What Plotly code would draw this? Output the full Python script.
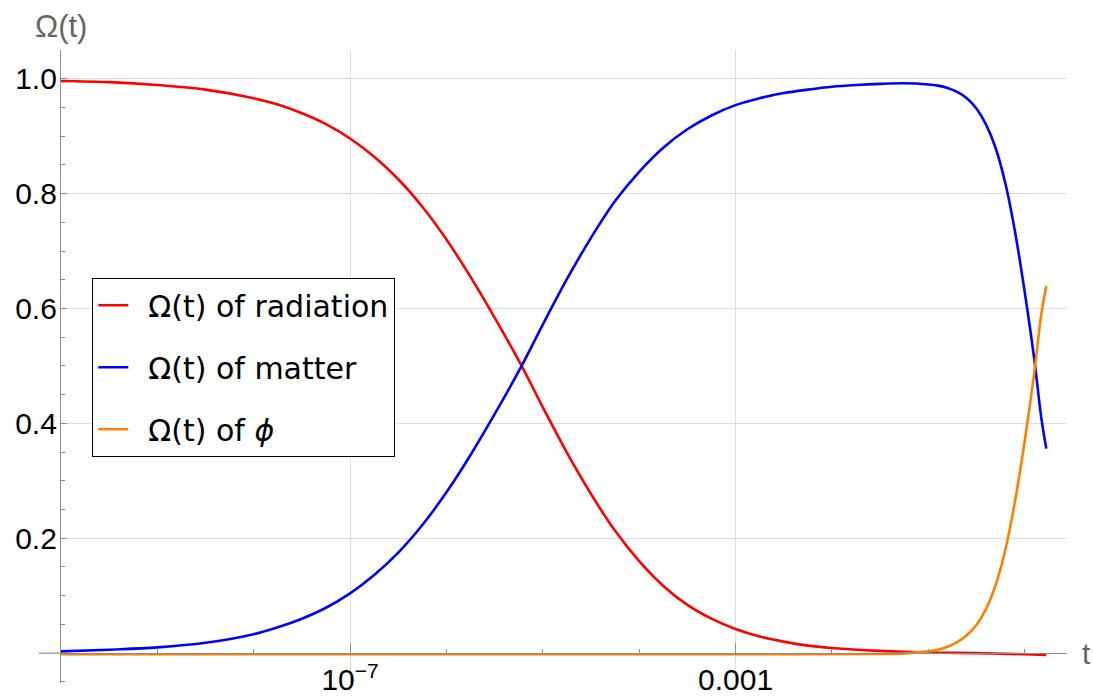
import plotly.graph_objects as go

# log10(t) sample positions and density parameters for each component
lt_radiation = [-10.0, -9.5, -9.0, -8.5, -8.0, -7.75, -7.5, -7.25, -7.0, -6.75, -6.5,
                -6.25, -6.0, -5.75, -5.5, -5.22, -5.0, -4.75, -4.5, -4.25, -4.0,
                -3.75, -3.5, -3.25, -3.0, -2.75, -2.5, -2.25, -2.0, -1.5, -1.0,
                -0.5, 0.0, 0.225]
omega_radiation = [0.996, 0.994, 0.989, 0.981, 0.966, 0.955, 0.940, 0.921, 0.896, 0.864, 0.825,
                   0.777, 0.720, 0.655, 0.584, 0.500, 0.428, 0.349, 0.277, 0.213, 0.160,
                   0.117, 0.084, 0.060, 0.042, 0.029, 0.020, 0.013, 0.009, 0.004, 0.001,
                   0.000, -0.002, -0.003]

lt_matter = [-10.0, -9.5, -9.0, -8.5, -8.0, -7.75, -7.5, -7.25, -7.0, -6.75, -6.5,
             -6.25, -6.0, -5.75, -5.5, -5.22, -5.0, -4.75, -4.5, -4.25, -4.0,
             -3.75, -3.5, -3.25, -3.0, -2.75, -2.5, -2.25, -2.0, -1.75, -1.5,
             -1.25, -1.0, -0.9, -0.8, -0.7, -0.6, -0.5, -0.4, -0.3, -0.2, -0.1,
             0.0, 0.1, 0.173, 0.225]
omega_matter = [0.003, 0.006, 0.010, 0.018, 0.033, 0.045, 0.060, 0.079, 0.104, 0.136, 0.175,
                0.223, 0.280, 0.345, 0.416, 0.500, 0.572, 0.651, 0.723, 0.787, 0.838,
                0.880, 0.912, 0.936, 0.954, 0.966, 0.975, 0.981, 0.986, 0.989, 0.991,
                0.992, 0.990, 0.988, 0.984, 0.977, 0.966, 0.948, 0.920, 0.879, 0.818, 0.734,
                0.630, 0.512, 0.410, 0.356]

lt_phi = [-10.0, -6.0, -2.0, -1.5, -1.25, -1.0, -0.9, -0.8, -0.7, -0.6, -0.5,
          -0.4, -0.3, -0.2, -0.1, 0.0, 0.1, 0.173, 0.225]
omega_phi = [-0.002, -0.002, -0.002, -0.0015, -0.0005, 0.003, 0.006, 0.011, 0.019, 0.031, 0.049,
             0.077, 0.119, 0.180, 0.264, 0.368, 0.488, 0.590, 0.639]

y_tickvals = [0.2, 0.4, 0.6, 0.8, 1.0]
y_ticktext = ["0.2", "0.4", "0.6", "0.8", "1.0"]
x_tickvals = [1e-7, 1e-3]
x_ticktext = ["10<sup>\u22127</sup>", "0.001"]
x_minor_ticks = [10.0 ** k for k in range(-10, 1)]

# legend names carry an en space so the text sits clear of the line sample
series = [
    ("\u2002\u03a9(t) of radiation", lt_radiation, omega_radiation, "#ff0000"),
    ("\u2002\u03a9(t) of matter", lt_matter, omega_matter, "#0000ff"),
    ("\u2002\u03a9(t) of <i>\u03d5</i>", lt_phi, omega_phi, "#ff8000"),
]

AXIS_GRAY = "#8c8c8c"
GRID_GRAY = "#dedede"
Y_RANGE = [-0.052, 1.05]

fig = go.Figure()
for i, (name, lt, om, col) in enumerate(series):
    fig.add_trace(go.Scatter(
        x=[10.0 ** v for v in lt], y=om, mode="lines", name=name,
        legendgroup=f"g{i}",
        line=dict(color=col, width=2.6, shape="spline", smoothing=1.0),
    ))

fig.update_layout(
    width=1093, height=699,
    margin=dict(l=61, r=26, t=50, b=16, autoexpand=False),
    paper_bgcolor="white", plot_bgcolor="white",
    font=dict(family="Liberation Sans, Arial, sans-serif", size=30, color="black"),
    showlegend=True,
    legend=dict(
        x=(92 - 61) / 1006, y=(683 - 278) / 633, xanchor="left", yanchor="top",
        bgcolor="white", bordercolor="black", borderwidth=1.3,
        font=dict(family="DejaVu Sans", size=30, color="black"),
        tracegroupgap=20, itemwidth=30,
    ),
    xaxis=dict(
        type="log", range=[-10, 0.44], automargin=False,
        anchor="free", position=(0 - Y_RANGE[0]) / (Y_RANGE[1] - Y_RANGE[0]),
        showline=True, linecolor=AXIS_GRAY, linewidth=1.2,
        tickmode="array", tickvals=x_tickvals, ticktext=x_ticktext,
        ticks="inside", ticklen=10, tickcolor=AXIS_GRAY, tickwidth=1.2,
        showgrid=True, gridcolor=GRID_GRAY, gridwidth=1,
        minor=dict(tickmode="array", tickvals=x_minor_ticks, ticks="inside",
                   ticklen=4, tickcolor=AXIS_GRAY, showgrid=False),
        zeroline=False,
        tickfont=dict(size=30, color="black"),
    ),
    yaxis=dict(
        range=Y_RANGE, automargin=False,
        showline=True, linecolor=AXIS_GRAY, linewidth=1.2,
        tickmode="array", tickvals=y_tickvals, ticktext=y_ticktext,
        ticks="inside", ticklen=6, tickcolor=AXIS_GRAY, tickwidth=1.2,
        ticklabelstandoff=-3,
        showgrid=True, gridcolor=GRID_GRAY, gridwidth=1,
        minor=dict(dtick=0.05, tick0=0, ticks="inside", ticklen=4,
                   tickcolor=AXIS_GRAY, showgrid=False),
        zeroline=False,
        tickfont=dict(size=30, color="black"),
    ),
    annotations=[
        dict(text="\u03a9(t)", xref="paper", yref="paper", x=0, y=1, yshift=24,
             xanchor="center", yanchor="middle", showarrow=False,
             font=dict(size=31, color="#666666")),
        dict(text="t", xref="paper", yref="y", x=(1086 - 61) / 1006, y=0,
             xanchor="center", yanchor="middle", showarrow=False,
             font=dict(size=30, color="#666666")),
    ],
    shapes=[
        # x axis continues a little to the left of the y axis
        dict(type="line", xref="paper", yref="y", x0=-22 / 1006, x1=0, y0=0, y1=0,
             line=dict(color=AXIS_GRAY, width=1.2)),
    ],
)

fig.write_html("out.html")
